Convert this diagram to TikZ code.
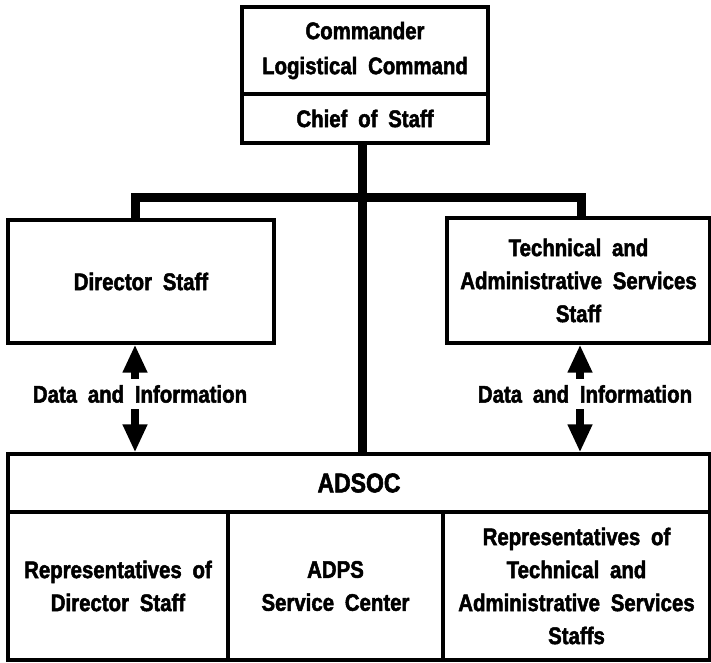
\documentclass[tikz,border=0pt]{standalone}
\usepackage{fontspec}
\setmainfont{Liberation Sans}[FakeStretch=0.85, WordSpace=1.9, BoldFeatures={FakeBold=2}]
\usetikzlibrary{arrows.meta}
\begin{document}
\begin{tikzpicture}[x=1pt,y=-1pt,
  box/.style={draw, line width=3.2pt, inner sep=0pt, align=center, font=\bfseries\fontsize{24}{33}\selectfont},
  lbl/.style={inner sep=0pt, minimum height=30pt, font=\bfseries\fontsize{24}{33}\selectfont},
  conn/.style={line width=9pt},
  darrow/.style={line width=8pt, -{Triangle[width=23pt,length=28pt]}}]
\useasboundingbox (0,0) rectangle (711,662);
\fill[white] (0,0) rectangle (711,662);
\node[box, minimum width=246pt, minimum height=87pt, font=\bfseries\fontsize{24}{35}\selectfont] (cmd) at (365,50.5) {Commander\\Logistical Command};
\node[box, minimum width=246pt, minimum height=49pt] (cos) at (365,118.5) {Chief of Staff};
\node[box, minimum width=266pt, minimum height=123pt] (dir) at (141,281.5) {Director Staff};
\node[box, minimum width=263pt, minimum height=125pt] (ta) at (578.5,280.5) {Technical and\\Administrative Services\\Staff};
\node[box, minimum width=702pt, minimum height=58pt, font=\bfseries\fontsize{27}{33}\selectfont] (adsoc) at (359,483) {ADSOC};
\node[box, minimum width=220pt, minimum height=148pt] (r1) at (118,586) {Representatives of\\Director Staff};
\node[box, minimum width=215pt, minimum height=148pt] (r2) at (335.5,586) {ADPS\\Service Center};
\node[box, minimum width=267pt, minimum height=148pt] (r3) at (576.5,586) {Representatives of\\Technical and\\Administrative Services\\Staffs};
\coordinate (jl) at (135,197);
\coordinate (jr) at (581,197);
\coordinate (tk) at (362,0);
\draw[conn] (dir.north -| jl) -- (jl) -- (jr) -- (ta.north -| jr);
\draw[conn] (cos.south -| tk) -- (adsoc.north -| tk);
\node[lbl] (dl) at (140,394) {Data and Information};
\node[lbl] (dr) at (585,394) {Data and Information};
\coordinate (al) at (135,0);
\coordinate (ar) at (580,0);
\draw[darrow] (dl.north -| al) -- (dir.south -| al);
\draw[darrow] (dl.south -| al) -- (adsoc.north -| al);
\draw[darrow] (dr.north -| ar) -- (ta.south -| ar);
\draw[darrow] (dr.south -| ar) -- (adsoc.north -| ar);
\end{tikzpicture}
\end{document}
